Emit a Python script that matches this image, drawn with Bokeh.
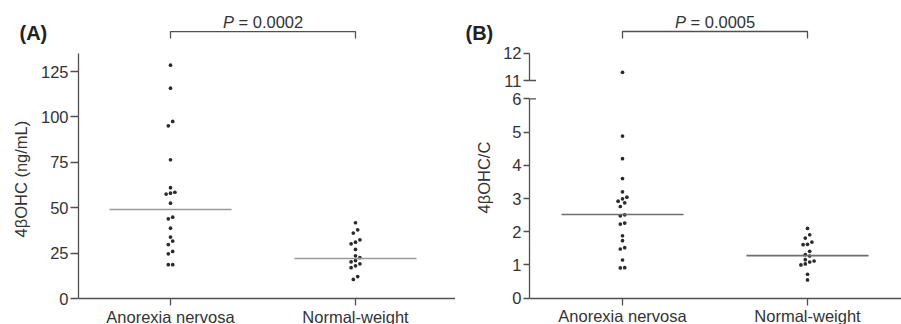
import math
from bokeh.plotting import figure
from bokeh.layouts import row, column
from bokeh.models import Range1d, FixedTicker
from bokeh.core.properties import value
from bokeh.embed import file_html
from bokeh.resources import INLINE

# ---------------- data ----------------
categories = ["Anorexia nervosa", "Normal-weight"]

a_anorexia = [128.5, 115.8, 97.5, 95.1, 76.4, 61.0, 58.5, 58.0, 57.5, 52.5,
              44.8, 43.9, 38.7, 33.8, 31.6, 29.7, 25.9, 24.6, 18.6, 18.6]
a_normal = [41.7, 37.8, 36.0, 32.3, 31.0, 30.1, 27.0, 23.5, 22.5, 20.9,
            20.2, 19.1, 18.0, 17.0, 12.1, 10.5]
a_median = [49.0, 22.0]
a_pvalue = "0.0002"
a_ticks = [0, 25, 50, 75, 100, 125]
a_ylabel = "4βOHC (ng/mL)"

b_anorexia = [11.3, 4.88, 4.20, 3.60, 3.20, 3.04, 2.99, 2.92, 2.87, 2.76, 2.51,
              2.48, 2.26, 2.23, 1.88, 1.73, 1.52, 1.48, 1.15, 0.92, 0.91]
b_normal = [2.10, 1.91, 1.81, 1.69, 1.62, 1.61, 1.41, 1.31, 1.27, 1.16, 1.12,
            1.09, 1.03, 1.00, 0.72, 0.55]
b_median = [2.52, 1.28]
b_pvalue = "0.0005"
b_ticks_low = [0, 1, 2, 3, 4, 5, 6]
b_ticks_high = [11, 12]
b_ylabel = "4βOHC/C"

# ---------------- styling ----------------
FONT = "Liberation Sans"
TXT = "#333333"
AXC = "#505050"
DOT = "#2a2a2a"
FS = "16.5px"
PX_X = 185.0            # pixels per category step (both panels)
cat_pos = [1, 2]
overrides = {c: name for c, name in zip(cat_pos, categories)}


def swarm(vals, px_per_unit, d=4.4):
    """centred-row beeswarm: returns x offsets in data units"""
    order = sorted(range(len(vals)), key=lambda i: vals[i])
    offs = [0.0] * len(vals)
    rows, cur = [], []
    for i in order:
        if cur and (vals[i] - vals[cur[0]]) * px_per_unit > d:
            rows.append(cur)
            cur = []
        cur.append(i)
    if cur:
        rows.append(cur)
    for r in rows:
        n = len(r)
        for j, i in enumerate(r):
            offs[i] = (j - (n - 1) / 2) * d / PX_X
    return offs


def make_fig(w, h, xr, yr, axis_x, x_axis=True):
    p = figure(width=w, height=h, x_range=Range1d(*xr), y_range=Range1d(*yr),
               output_backend="svg", toolbar_location=None,
               x_axis_location="below" if x_axis else None,
               min_border=0, min_border_left=0, min_border_right=0,
               min_border_top=0, min_border_bottom=0)
    p.outline_line_color = None
    p.xgrid.grid_line_color = None
    p.ygrid.grid_line_color = None
    p.background_fill_color = "white"
    p.border_fill_color = "white"
    for ax in p.axis:
        ax.axis_line_color = AXC
        ax.axis_line_width = 1.3
        ax.major_tick_line_color = AXC
        ax.major_tick_line_width = 1.3
        ax.major_tick_in = 0
        ax.minor_tick_line_color = None
        ax.major_label_text_font = FONT
        ax.major_label_text_font_size = FS
        ax.major_label_text_color = TXT
        ax.major_label_standoff = 2
    p.yaxis.fixed_location = axis_x
    if x_axis:
        p.xaxis.fixed_location = 0
        p.xaxis.bounds = (axis_x, xr[1])
        p.xaxis.ticker = FixedTicker(ticks=cat_pos)
        p.xaxis.major_label_overrides = overrides
        p.xaxis.major_tick_out = 7
    return p


def add_pvalue(p, yb, leg, ytxt, pv):
    p.line(x=[cat_pos[0], cat_pos[0], cat_pos[1], cat_pos[1]],
           y=[yb - leg, yb, yb, yb - leg], line_color=AXC, line_width=1.3)
    xm = (cat_pos[0] + cat_pos[1]) / 2
    p.text(x=[xm], y=[ytxt], text=["P"], text_font=value(FONT), text_font_size=FS,
           text_font_style="italic", text_color=TXT, text_align="right",
           text_baseline="middle", x_offset=-29)
    p.text(x=[xm], y=[ytxt], text=["= " + pv], text_font=value(FONT), text_font_size=FS,
           text_color=TXT, text_align="left", text_baseline="middle", x_offset=-24.5)


def add_tag(p, x, y, txt):
    p.text(x=[x], y=[y], text=[txt], text_font=value(FONT), text_font_size="20px",
           text_font_style="bold", text_color="#222222", text_align="left",
           text_baseline="middle")


def add_ylabel(p, x, y, txt):
    # anchored at the start of the text (its lower end once rotated)
    p.text(x=[x], y=[y], text=[txt], text_font=value(FONT), text_font_size=FS,
           text_color=TXT, text_align="left", text_baseline="middle",
           angle=math.pi / 2)


def add_points(p, vals, k, pyu):
    offs = swarm(vals, pyu)
    p.scatter(x=[cat_pos[k] + o for o in offs], y=vals, size=3.7,
              fill_color=DOT, line_color=None)


def add_medians(p, med, color):
    p.segment(x0=[c - 0.33 for c in cat_pos], y0=med,
              x1=[c + 0.33 for c in cat_pos], y1=med,
              line_color=color, line_width=1.6)


# ---------------- panel A ----------------
PY_A = 1.816
axA = 1 - 92 / PX_X
xA = (1 - 170 / PX_X, 1 + (455 - 170) / PX_X)
yA = (-(324 - 298) / PY_A, 298 / PY_A)
pA = make_fig(455, 324, xA, yA, axA)
pA.yaxis.ticker = FixedTicker(ticks=a_ticks)
pA.yaxis.bounds = (0, 135)
pA.yaxis.major_tick_out = 8
add_points(pA, a_anorexia, 0, PY_A)
add_points(pA, a_normal, 1, PY_A)
add_medians(pA, a_median, "#9a9a9a")
add_pvalue(pA, 147.0, 3.8, 152.4, a_pvalue)
add_tag(pA, 1 - 151 / PX_X, 146.2, "(A)")
add_ylabel(pA, 1 - 150 / PX_X, 33.6, a_ylabel)

# ---------------- panel B (broken axis: two stacked frames) ----------------
axB = 1 - 93 / PX_X
xB = (1 - 167 / PX_X, 1 + (446 - 167) / PX_X)
PY_BT = 27.3
PY_BB = 33.23
pBt = make_fig(446, 89, xB, (11 - 9 / PY_BT, 12 + 52.7 / PY_BT), axB, x_axis=False)
pBb = make_fig(446, 235, xB, (-(235 - 208.7) / PY_BB, 208.7 / PY_BB), axB)
pBt.x_range = pBb.x_range
pBt.yaxis.ticker = FixedTicker(ticks=b_ticks_high)
pBt.yaxis.bounds = (min(b_ticks_high), max(b_ticks_high))
pBt.yaxis.major_tick_out = 6
pBb.yaxis.ticker = FixedTicker(ticks=b_ticks_low)
pBb.yaxis.bounds = (0, max(b_ticks_low))
pBb.yaxis.major_tick_out = 6
# break marks: ticks crossing the axis at both ends of the break
pBt.segment(x0=[axB], y0=[min(b_ticks_high)], x1=[axB + 6.5 / PX_X], y1=[min(b_ticks_high)],
            line_color=AXC, line_width=1.3)
pBb.segment(x0=[axB], y0=[max(b_ticks_low)], x1=[axB + 6.5 / PX_X], y1=[max(b_ticks_low)],
            line_color=AXC, line_width=1.3)

for k, vals in enumerate([b_anorexia, b_normal]):
    offs = swarm(vals, PY_BB)
    lo = [(cat_pos[k] + o, v) for o, v in zip(offs, vals) if v <= max(b_ticks_low)]
    hi = [(cat_pos[k] + o, v) for o, v in zip(offs, vals) if v > max(b_ticks_low)]
    if lo:
        pBb.scatter(x=[a for a, _ in lo], y=[b for _, b in lo], size=3.7,
                    fill_color=DOT, line_color=None)
    if hi:
        pBt.scatter(x=[a for a, _ in hi], y=[b for _, b in hi], size=3.7,
                    fill_color=DOT, line_color=None)
add_medians(pBb, b_median, "#6e6e6e")
add_pvalue(pBt, 12.795, 0.257, 13.150, b_pvalue)
add_tag(pBt, 1 - 157 / PX_X, 12.740, "(B)")
add_ylabel(pBb, 1 - 139 / PX_X, 2.549, b_ylabel)

layout = row(pA, column(pBt, pBb))
open("out.html", "w").write(file_html(layout, INLINE))
